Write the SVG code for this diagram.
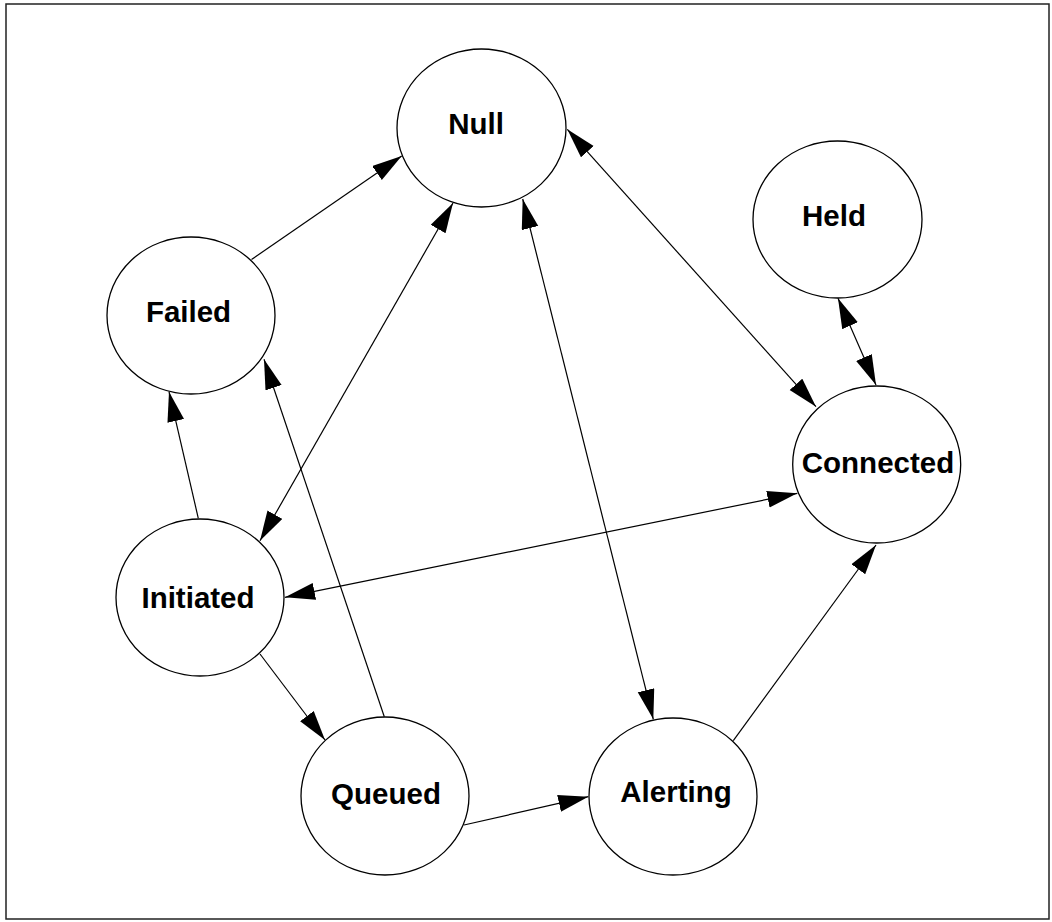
<svg xmlns="http://www.w3.org/2000/svg" width="1052" height="922" viewBox="0 0 1052 922">
<defs>
<marker id="ah" markerUnits="userSpaceOnUse" markerWidth="31" markerHeight="18" refX="30" refY="8.5" orient="auto-start-reverse">
<path d="M0,0 L30,8.5 L0,17 z" fill="#000"/>
</marker>
<style>
.node ellipse{fill:#fff;stroke:#000;stroke-width:1.3}
.node text{font-family:"Liberation Sans",Arial,sans-serif;font-weight:bold;font-size:29.5px;text-anchor:middle;fill:#000}
#edges line{stroke:#000;stroke-width:1.2;fill:none}
.end{marker-end:url(#ah)}
.both{marker-start:url(#ah);marker-end:url(#ah)}
</style>
</defs>
<rect x="0" y="0" width="1052" height="922" fill="#fff"/>
<rect x="6" y="4" width="1043" height="915" fill="none" stroke="#222" stroke-width="1.5"/>
<g id="edges">
<line class="end" x1="251.5" y1="259.5" x2="401.7" y2="156"/>
<line class="both" x1="453" y1="203" x2="260" y2="540.7"/>
<line class="both" x1="522.7" y1="199" x2="653.3" y2="719.3"/>
<line class="both" x1="567.3" y1="129.3" x2="816" y2="406.7"/>
<line class="both" x1="838" y1="298.3" x2="876" y2="385"/>
<line class="end" x1="198.3" y1="518.3" x2="169" y2="391.7"/>
<line class="end" x1="384.3" y1="716.7" x2="264" y2="359.3"/>
<line class="both" x1="285" y1="597.3" x2="797.3" y2="493.3"/>
<line class="end" x1="260" y1="654" x2="325" y2="740"/>
<line class="end" x1="464" y1="825" x2="588.3" y2="796.7"/>
<line class="end" x1="733.3" y1="740.7" x2="876" y2="545"/>
</g>
<g id="null" class="node"><ellipse cx="481.5" cy="128" rx="84.5" ry="79"/><text x="476" y="134">Null</text></g>
<g id="held" class="node"><ellipse cx="837.5" cy="219.5" rx="84.5" ry="78.5"/><text x="834" y="225.7">Held</text></g>
<g id="failed" class="node"><ellipse cx="191" cy="315.5" rx="84" ry="78.5"/><text x="188.5" y="321.7">Failed</text></g>
<g id="connected" class="node"><ellipse cx="876.7" cy="464.5" rx="84" ry="78.5"/><text x="878" y="472.7">Connected</text></g>
<g id="initiated" class="node"><ellipse cx="200" cy="597.5" rx="84" ry="78.5"/><text x="198" y="608">Initiated</text></g>
<g id="queued" class="node"><ellipse cx="385" cy="796" rx="84" ry="79"/><text x="386" y="804">Queued</text></g>
<g id="alerting" class="node"><ellipse cx="673" cy="796.5" rx="84" ry="78.5"/><text x="676" y="801.7">Alerting</text></g>
</svg>
